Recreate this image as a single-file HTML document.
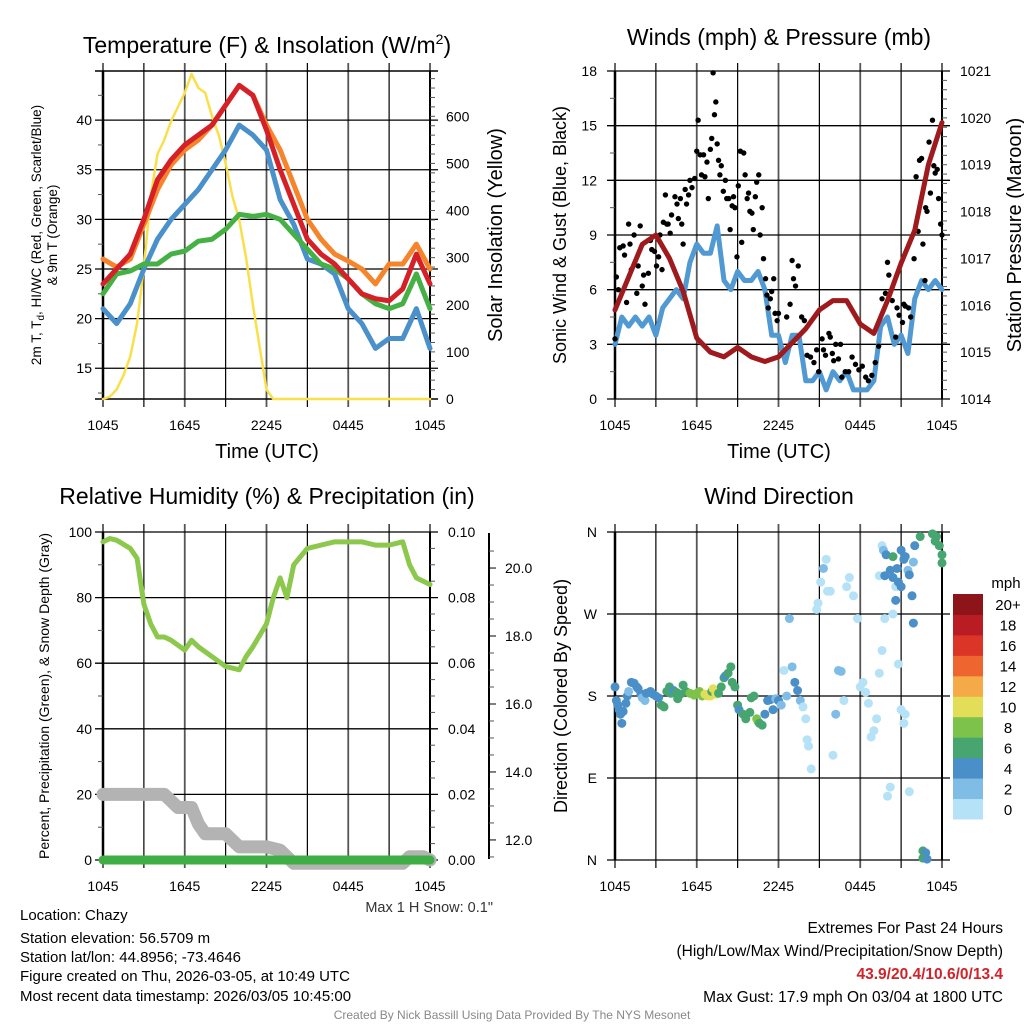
<!DOCTYPE html>
<html><head><meta charset="utf-8"><style>
html,body{margin:0;padding:0;background:#fff}
svg{display:block;font-family:"Liberation Sans",sans-serif}
</style></head><body>
<svg id="s" width="1024" height="1024" viewBox="0 0 1024 1024" xmlns="http://www.w3.org/2000/svg">
<rect width="1024" height="1024" fill="#fff"/>
</svg>
<script>
// ---- data (hours since 1045 UTC) ----
const hourTicks=["1045","1645","2245","0445","1045"];
const tempHours=[0,1,2,3,4,5,6,7,8,9,10,11,12,13,14,15,16,17,18,19,20,21,22,23,24];
const tempRed=[23.5,25,26.5,30,34,36,37.5,38.5,39.5,41.5,43.5,42.5,39,35,31.5,28,26.5,25.5,24,22.5,22,21.8,23,26.5,23.5];
const tempOrange=[26,25.2,26,29.5,33,35.5,37,38,39.5,41.5,43.5,42.5,39.5,37,33.5,30,28,26.5,25.8,25,23.5,25.5,25.5,27.5,25];
const tempGreen=[22.5,24.5,24.8,25.5,25.5,26.5,26.8,27.8,28,29,30.5,30.3,30.5,30,28.5,27,25.5,25,24,22.5,21.5,21,21.5,24.5,21];
const tempBlue=[21,19.5,21.5,25,28,30,31.5,33,35,37,39.5,38.5,37,32,29.5,26,25.5,24.5,21,19.5,17,18,18,21,17];
const solarHours=[0,0.5,1,1.5,2,2.5,3,3.5,4,4.5,5,5.5,6,6.5,7,7.5,8,8.5,9,9.5,10,10.5,11,11.5,12,12.5,13,24];
const solarValues=[0,5,20,50,90,160,280,430,520,550,590,620,650,690,660,650,600,560,500,430,380,300,200,110,20,0,0,0];
const windHours=[0,0.5,1,1.5,2,2.5,3,3.5,4,4.5,5,5.5,6,6.5,7,7.5,8,8.5,9,9.5,10,10.5,11,11.5,12,12.5,13,13.5,14,14.5,15,15.5,16,16.5,17,17.5,18,18.5,19,19.5,20,20.5,21,21.5,22,22.5,23,23.5,24];
const windSpeed=[3,4.5,4,4.5,4,4.5,3.5,5,5.5,6,5.5,7.5,8.5,8,8,9.5,6.5,6,7,6.5,6.5,7,6,3.5,3.5,2,3.5,3.5,1,1,1.5,0.5,1.5,1,1.5,0.5,0.5,0.5,1,4,4.5,3,3.5,2.5,5.5,6.5,6,6.5,6];
const pressHours=[0,1,2,3,4,5,6,7,8,9,10,11,12,13,14,15,16,17,18,19,20,21,22,23,24];
const pressure=[1015.9,1016.6,1017.3,1017.5,1017,1016.3,1015.3,1015,1014.9,1015.1,1014.9,1014.8,1014.9,1015.2,1015.5,1015.9,1016.1,1016.1,1015.6,1015.4,1016.1,1016.9,1017.6,1019,1019.9];
const gustHours=[0,0.1,0.25,0.35,0.6,0.7,0.85,1,1.1,1.2,1.4,1.6,1.7,1.85,2,2.1,2.2,2.45,2.6,2.7,2.9,3.05,3.2,3.3,3.45,3.55,3.7,3.8,3.9,4.05,4.15,4.4,4.55,4.65,4.8,4.9,5,5.15,5.25,5.4,5.5,5.65,5.85,6,6.1,6.25,6.35,6.5,6.6,6.75,6.85,7,7.1,7.2,7.3,7.4,7.5,7.6,7.7,7.8,7.95,8.1,8.2,8.35,8.45,8.6,8.7,8.8,8.95,9.05,9.2,9.3,9.45,9.55,9.7,9.8,9.9,10.05,10.15,10.3,10.4,10.55,10.65,10.8,10.9,11.05,11.15,11.25,11.4,11.5,11.65,11.75,11.9,12,12.6,12.85,13,13.1,13.25,13.45,13.7,13.9,14.1,14.35,14.6,14.8,14.95,15.2,15.3,15.45,15.7,15.8,15.95,16.05,16.2,16.4,16.55,16.65,16.9,17.15,17.4,17.65,17.9,18.15,18.4,18.6,18.85,19.1,19.35,19.6,19.85,20,20.1,20.35,20.6,20.7,20.85,21.1,21.2,21.3,21.55,21.7,21.95,22.1,22.25,22.35,22.5,22.6,22.75,22.8,22.9,23.05,23.15,23.3,23.4,23.5,23.65,23.75,23.9,24];
const gustValues=[3.3,6.7,6,8.3,8.4,7.9,5.3,9.6,8.5,7.1,9,5.8,7.3,9.5,6.2,6.8,5.2,6.9,8.7,8.2,8.1,7.3,7.8,9,7.1,9.7,11.2,9.6,9.6,9.1,10.1,11.1,10.7,9.9,11,9.6,8.5,11.5,10.7,11.2,12,11.6,12.1,13.6,15.3,13.4,12.3,13.4,12.2,13,11,13.7,14.3,17.9,15.6,16.3,14,13.1,12.3,12.8,11.4,12,11,11,9.3,10.6,11.1,10.5,7.8,11.7,13.6,8.6,13.5,12.3,11,11.3,10.3,10.2,9.3,11.1,11.9,12.3,9,10.5,7.7,6.6,5.7,5,5.5,5.9,6.6,4.7,4.3,4.7,4.5,5.2,7.6,6.6,6.2,7.3,4.5,4.3,2.4,2.3,2,2.7,1.5,3.3,2.7,2.4,3.6,3.4,2.5,2.1,3,2.2,3,1.2,1.5,1.5,2.3,1.9,1.6,1.8,1.2,1,1.3,2,2.9,5.5,5.8,7.5,6.8,5.4,3.4,5,4.6,4.2,5.2,5.1,5,4.5,7.7,12.2,9.2,13.1,13.2,8.5,6.5,10.5,10.3,14.1,11.3,15.3,12.8,12.4,12.6,11,9.6,9];
const rhHours=[0,0.5,1,2,2.5,3,3.5,4,4.5,5,6,6.5,7,8,9,10,10.5,11,12,12.5,13,13.5,14,15,16,17,18,19,20,21,22,22.5,23,24];
const rhValues=[97,98,97.5,95,92,78,72,68,68,67,64,67,65,62,59,58,62,65,72,80,86,80,90,95,96,97,97,97,96,96,97,90,86,84];
const snowHours=[0,4.5,5,5.5,6.5,7,7.5,9,9.5,10,12,13,14,22,22.5,23.5,24];
const snowValues=[20,20,18,16,16,11,8,8,6,4,4,3,-1,-1,1,1,0];
const precipHours=[0,24];
const precipValues=[0,0];
const dirHours=[0,0.1,0.2,0.3,0.4,0.5,0.6,0.8,0.9,1,1.2,1.4,1.6,1.7,1.9,2,2.2,2.3,2.6,2.8,3,3.2,3.4,3.6,3.8,4,4.1,4.3,4.5,4.6,4.8,5,5.2,5.5,5.8,6,6.2,6.4,6.6,6.8,7,7.1,7.2,7.4,7.6,7.8,8,8.1,8.3,8.5,8.6,8.8,9,9.1,9.4,9.6,9.9,10,10.2,10.4,10.5,10.6,10.8,11,11.2,11.4,11.6,11.8,12,12.2,12.4,12.6,12.8,13,13.2,13.4,13.6,13.8,14,14.1,14.2,14.4,14.8,14.9,15.1,15.3,15.5,15.6,15.8,16,16.2,16.4,16.6,16.8,17,17.2,17.5,17.8,18,18.2,18.4,18.6,18.8,19,19.2,19.4,19.6,19.8,20,20.2,20.4,20.6,20.8,21,21.2,21.3,21.6,19.4,19.6,19.7,19.9,20.2,20.4,20.4,19.8,20.7,20.8,21,21,21.2,21.3,21.5,21.6,21.9,22,22.4,23.3,23.6,23.5,23.8,24,24,21.8,20.6,21.9,22.6,22.8,22.6,22.9];
const dirDegrees=[190,175,170,165,160,150,163,172,180,185,195,194,190,188,182,178,175,183,185,182,180,178,170,168,185,190,183,186,184,177,182,192,185,183,181,183,185,180,182,180,180,185,188,182,183,190,200,202,205,212,195,190,170,165,160,155,162,178,180,155,152,150,148,160,175,176,165,177,175,170,208,180,265,212,195,186,175,168,155,132,125,100,275,282,305,320,330,295,295,115,160,208,207,175,300,310,290,265,190,195,184,172,135,142,155,205,230,265,70,80,270,300,215,165,150,160,75,312,345,340,335,318,310,333,312,320,305,300,340,330,333,318,313,327,345,355,358,355,350,345,335,326,290,285,260,10,8,2,1];
const dirSpeeds=[4,4,4,4,4,4,4,4,4,2,4,4,4,4,4,2,2,4,4,5,4,4,6,6,6,6,6,4,6,6,6,7,6,8,8,9,8,9,10,10,10,6,10,10,7,6,6,4,6,6,6,6,7,4,7,6,7,7,7,8,8,7,6,4,4,4,4,2,4,2,1,2,2,2,4,4,2,1,1,1,1,0,1,0,0,2,0,0,1,0,2,2,2,1,1,1,0,0,0,1,1,0,0,0,1,0,1,1,0,0,1,0,0,0,1,1,0,0,0,2,4,4,4,6,4,4,4,4,4,4,4,2,4,2,4,6,6,6,6,6,6,6,4,4,4,6,4,6,4];
const cbLabels=["0","2","4","6","8","10","12","14","16","18","20+"];
const cbColors=["#b5e2f7","#80bde6","#4a8fc8","#47a66f","#7cc24b","#e3de57","#f5a947","#ee6530","#db3527","#ba1c24","#8d1519"];

const svg=document.getElementById('s');
const NS='http://www.w3.org/2000/svg';
function el(tag,attrs,parent){const e=document.createElementNS(NS,tag);for(const k in attrs)e.setAttribute(k,attrs[k]);(parent||svg).appendChild(e);return e;}
function txt(str,x,y,size,anchor,parent,extra){const t=el('text',Object.assign({x:x,y:y,'font-size':size,'text-anchor':anchor||'middle',fill:'#000'},extra||{}),parent);t.textContent=str;return t;}
function lin(a,b,c,d){return v=>c+(v-a)*(d-c)/(b-a);}

function frame(px,py0,py1,name){
  const g=el('g',{});
  
  
  const X=lin(0,24,103+px,430+px);
  for(let i=0;i<=8;i++){const x=X(i*3);
    el('line',{x1:x,x2:x,y1:py0-8,y2:py1+8,stroke:(i%2?'#000':'#555'),'stroke-width':(i%2?1.2:1.8)},g);}
  el('line',{x1:103+px,x2:103+px,y1:py0,y2:py1,stroke:'#000','stroke-width':2.5},g);
  el('line',{x1:430+px,x2:430+px,y1:py0,y2:py1,stroke:'#000','stroke-width':2},g);
  hourTicks.forEach((l,i)=>{const t=txt(l,X(i*6),0,14,'middle',g);t.setAttribute('y',py1+31);});
  return {g:g,X:X};
}
function hgrid(g,px,ys,labels,side,tx,stroke){
  ys.forEach((y,i)=>{el('line',{x1:95+px,x2:438+px,y1:y,y2:y,stroke:stroke||'#000','stroke-width':1.3},g);
    if(labels[i]!==null) txt(labels[i],tx,y+5,14,side,g);});
}
function minor(g,x,ys,dir){ys.forEach(y=>el('line',{x1:x,x2:x+dir*5,y1:y,y2:y,stroke:'#555','stroke-width':1},g));}
function poly(pts,stroke,w,name,parent){const p=el('polyline',{points:pts.map(p=>p.join(',')).join(' '),fill:'none',stroke:stroke,'stroke-width':w,'stroke-linejoin':'round','stroke-linecap':'round'},parent);
  
  return p;}

// ===== Panel 1: Temperature =====
(function(){
  const f=frame(0,71,399,'temperature');const g=f.g,X=f.X;
  const Y=lin(11.9,44.95,399,71), S=lin(0,600,399,116.3);
  const tv=[15,20,25,30,35,40];
  hgrid(g,0,tv.map(Y),tv.map(String),'end',92);
  el('line',{x1:95,x2:438,y1:71,y2:71,stroke:'#000','stroke-width':1.5},g);
  el('line',{x1:95,x2:438,y1:399,y2:399,stroke:'#000','stroke-width':1.5},g);
  minor(g,103,[12.5,17.5,22.5,27.5,32.5,37.5,42.5].map(Y),-1);
  const sv=[0,100,200,300,400,500,600];
  sv.forEach(v=>txt(String(v),446,S(v)+5,14,'start',g));
  const sm=[];for(let v=20;v<=690;v+=20)sm.push(S(v));minor(g,430,sm,1);
  const order=[['orange',tempOrange,'#f6842b'],['blue',tempBlue,'#4a90cb'],['green',tempGreen,'#45b043'],['red',tempRed,'#d52028']];
  const sl=poly(solarHours.map((h,i)=>[X(h),S(solarValues[i])]),'#f9e04b',2.5,'solar-insolation-line');
  order.forEach(o=>poly(tempHours.map((h,i)=>[X(h),Y(o[1][i])]),o[2],5,o[0]+'-temperature-line'));
  const t=el('text',{x:267,y:53,'font-size':23,'text-anchor':'middle'});t.innerHTML='Temperature (F) &amp; Insolation (W/m<tspan dy="-9" font-size="14">2</tspan><tspan dy="9">)</tspan>';
  
  const xl=txt('Time (UTC)',267,458,20);
  const yl=el('text',{transform:'translate(41,235) rotate(-90)','font-size':13.5,'text-anchor':'middle'});
  yl.innerHTML='2m T, T<tspan dy="3" font-size="10">d</tspan><tspan dy="-3">, HI/WC (Red, Green, Scarlet/Blue)</tspan>';
  
  const yl2=txt('& 9m T (Orange)',0,0,13.5,'middle');yl2.setAttribute('transform','translate(57,235) rotate(-90)');
  const yr=txt('Solar Insolation (Yellow)',0,0,20,'middle');yr.setAttribute('transform','translate(502,235) rotate(-90)');
  
})();

// ===== Panel 2: Winds =====
(function(){
  const px=512;const f=frame(px,71,399,'winds');const g=f.g,X=f.X;
  const Y=lin(0,18,399,71), P=lin(1014,1021,399,71);
  const wv=[0,3,6,9,12,15,18];
  hgrid(g,px,wv.map(Y),wv.map(String),'end',597);
  minor(g,615,[1.5,4.5,7.5,10.5,13.5,16.5].map(Y),-1);
  const pv=[1014,1015,1016,1017,1018,1019,1020,1021];
  pv.forEach(v=>txt(String(v),960,P(v)+5,14,'start',g));
  const pm=[];for(let v=1014.2;v<1021;v+=0.2)pm.push(P(v));minor(g,942,pm,1);
  poly(windHours.map((h,i)=>[X(h),Y(windSpeed[i])]),'#5199d3',5,'sonic-wind-line');
  const dg=el('g',{});
  gustHours.forEach((h,i)=>{const c=el('circle',{cx:X(h),cy:Y(gustValues[i]),r:2.7,fill:'#000'},dg);
    
    });
  poly(pressHours.map((h,i)=>[X(h),P(pressure[i])]),'#9e1a1d',5,'pressure-line');
  const t=txt('Winds (mph) & Pressure (mb)',779,45,23);
  txt('Time (UTC)',779,458,20);
  const yl=txt('Sonic Wind & Gust (Blue, Black)',0,0,18);yl.setAttribute('transform','translate(566,235) rotate(-90)');
  
  const yr=txt('Station Pressure (Maroon)',0,0,20);yr.setAttribute('transform','translate(1021,235) rotate(-90)');
  
})();

// ===== Panel 3: RH =====
(function(){
  const f=frame(0,532,860,'humidity');const g=f.g,X=f.X;
  const Y=lin(0,100,860,532), D=lin(11.41,21.06,860,532);
  const rv=[0,20,40,60,80,100];
  hgrid(g,0,rv.map(Y),rv.map(String),'end',92);
  minor(g,103,[10,30,50,70,90].map(Y),-1);
  ['0.00','0.02','0.04','0.06','0.08','0.10'].forEach((l,i)=>txt(l,448,Y(i*20)+5,14,'start',g));
  const pm=[];for(let v=5;v<100;v+=5)if(v%20)pm.push(Y(v));minor(g,430,pm,1);
  el('line',{x1:489,x2:489,y1:533,y2:859,stroke:'#000','stroke-width':2},g);
  [12,14,16,18,20].forEach(v=>{el('line',{x1:489,x2:496,y1:D(v),y2:D(v),stroke:'#000','stroke-width':1},g);txt(v.toFixed(1),505,D(v)+5,14,'start',g);});
  const dm=[];for(let v=11.5;v<21;v+=0.5)if(v%2)dm.push(D(v));minor(g,489,dm,1);
  poly(rhHours.map((h,i)=>[X(h),Y(rhValues[i])]),'#8cc84b',5,'relative-humidity-line');
  poly(snowHours.map((h,i)=>[X(h),Y(snowValues[i])]),'#b3b3b3',13,'snow-depth-line');
  poly(precipHours.map((h,i)=>[X(h),Y(precipValues[i]*1000)]),'#3fae45',9,'precipitation-line');
  const t=txt('Relative Humidity (%) & Precipitation (in)',267,504,23);
  const yl=txt('Percent, Precipitation (Green), & Snow Depth (Gray)',0,0,14);yl.setAttribute('transform','translate(49,696) rotate(-90)');
  
  const sn=txt('Max 1 H Snow: 0.1"',493,912,14.5,'end',null,{fill:'#333'});
})();

// ===== Panel 4: Wind direction =====
(function(){
  const px=512;const f=frame(px,532,860,'direction');const g=f.g,X=f.X;
  const Y=lin(0,360,860,532);
  const dv=[0,90,180,270,360];const dl=['N','E','S','W','N'];
  hgrid(g,px,dv.map(Y),dl,'end',597);
  const pg=el('g',{});
  dirHours.forEach((h,i)=>{const k=Math.min(10,Math.floor(dirSpeeds[i]/2));
    const c=el('circle',{cx:X(h),cy:Y(dirDegrees[i]),r:4.5,fill:cbColors[k]},pg);
    
    });
  const t=txt('Wind Direction',779,504,23);
  const yl=txt('Direction (Colored By Speed)',0,0,18);yl.setAttribute('transform','translate(567,696) rotate(-90)');
  
  const cb=el('g',{});
  const h=225/cbColors.length;
  cbColors.forEach((c,i)=>{const y=819-(i+1)*h;el('rect',{x:953,y:y,width:30,height:h+0.5,fill:c},cb);
    txt(cbLabels[i],1008,y+h/2+6,15,'middle',cb);});
  txt('mph',1006,588,15,'middle',cb);
})();

// ===== footer text =====
const leftLines=['Location: Chazy','Station elevation: 56.5709 m','Station lat/lon: 44.8956; -73.4646','Figure created on Thu, 2026-03-05, at 10:49 UTC','Most recent data timestamp: 2026/03/05 10:45:00'];
const leftY=[920,943,962,981,1001];
leftLines.forEach((l,i)=>{const t=txt(l,20,leftY[i],15,'start');});
const e1=txt('Extremes For Past 24 Hours',1003,933,15.5,'end');
txt('(High/Low/Max Wind/Precipitation/Snow Depth)',1003,956,15.5,'end');
const ev=txt('43.9/20.4/10.6/0/13.4',1003,979,15.5,'end',null,{fill:'#d0232a','font-weight':'bold'});
const mg=txt('Max Gust: 17.9 mph On 03/04 at 1800 UTC',1003,1002,15.5,'end');
const cr=txt('Created By Nick Bassill Using Data Provided By The NYS Mesonet',512,1019,12,'middle',null,{fill:'#888'});
</script>
</body></html>
